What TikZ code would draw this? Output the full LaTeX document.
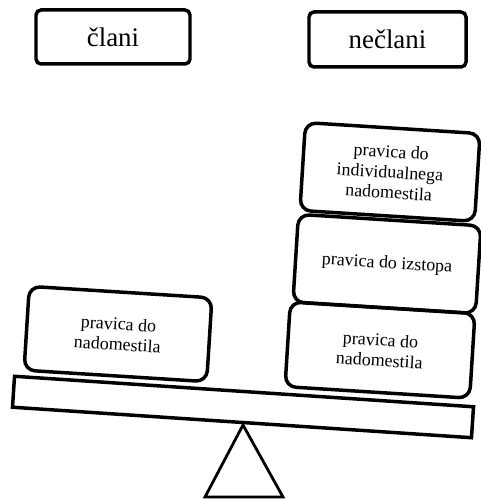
\documentclass[tikz,border=0pt]{standalone}
\usepackage{fontspec}
\setmainfont{Liberation Serif}
\tikzset{
  head/.style={draw, line width=3.5pt, rounded corners=5pt, minimum width=154bp, minimum height=54bp, inner sep=0pt, font=\fontsize{27}{30}\selectfont},
  weight/.style={draw, line width=3.5pt, rounded corners=11pt, rotate=-3.6, inner sep=0pt, align=center, font=\fontsize{18}{20.5}\selectfont},
  beamst/.style={draw, line width=3.5pt, rotate=-3.8, minimum width=460bp, minimum height=31bp, inner sep=0pt},
}
\begin{document}
\begin{tikzpicture}[x=1bp,y=1bp]
\path[use as bounding box, fill=white] (0,0) rectangle (481,499);
% header labels
\node[head] (clani) at (113,462) {člani};
\node[head, minimum width=157bp, minimum height=55bp] (neclani) at (387.5,459.5) {nečlani};
% fulcrum
\coordinate (apex) at (243,74);
\coordinate (bl) at (205,2);
\coordinate (br) at (283,2);
\draw[line width=2.8pt, line join=miter] (apex) -- (bl) -- (br) -- cycle;
% beam
\node[beamst] (beam) at (243,92) {};
% weights
\node[weight, minimum width=183bp, minimum height=84bp] (left) at (118,165) {pravica do\\nadomestila};
\node[weight, minimum width=185bp, minimum height=85bp] (rb) at (380,149) {pravica do\\nadomestila};
\node[weight, minimum width=183bp, minimum height=88bp] (rm) at (387,235) {pravica do izstopa};
\node[weight, minimum width=175bp, minimum height=88bp] (rt) at (390,327) {pravica do\\individualnega\\nadomestila};
\end{tikzpicture}
\end{document}
